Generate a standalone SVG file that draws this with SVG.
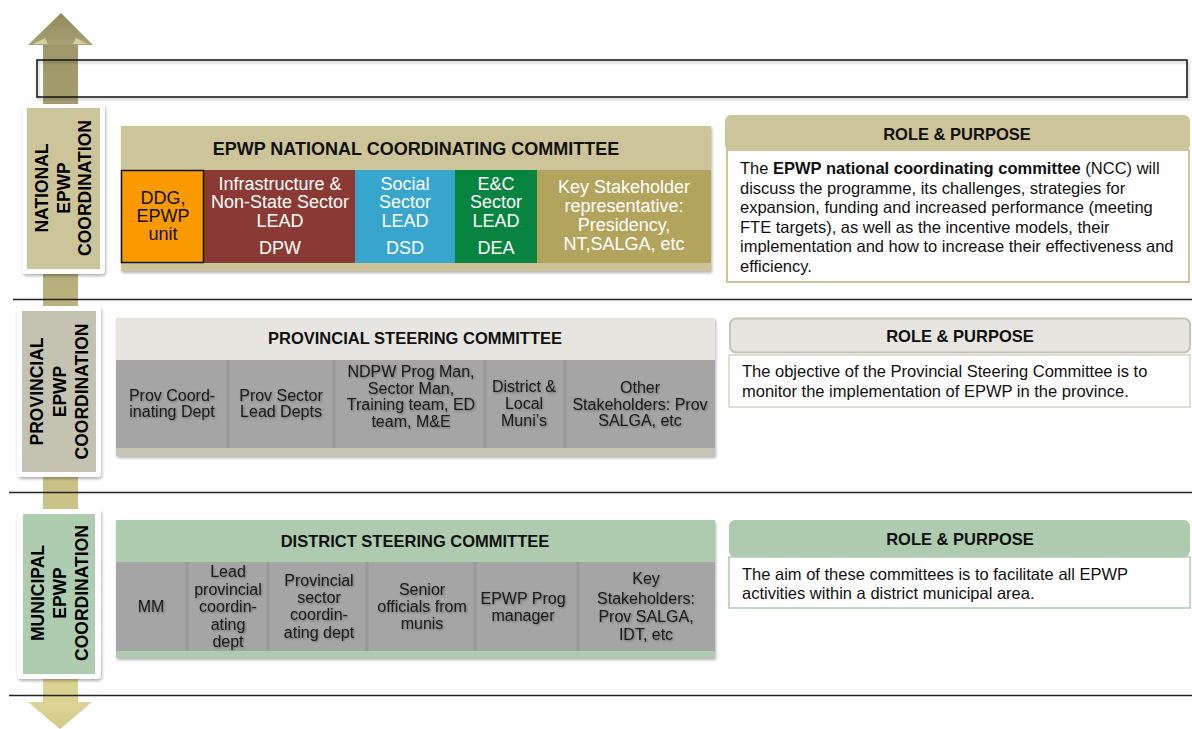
<svg xmlns="http://www.w3.org/2000/svg" width="1192" height="729" viewBox="0 0 1192 729">
<defs>
<linearGradient id="shaftGrad" x1="0" y1="0" x2="0" y2="1">
<stop offset="0" stop-color="#9e986a"/>
<stop offset="0.45" stop-color="#bdb581"/>
<stop offset="1" stop-color="#dcd391"/>
</linearGradient>
<linearGradient id="headTop" x1="0" y1="0" x2="0" y2="1">
<stop offset="0" stop-color="#8f895c"/>
<stop offset="1" stop-color="#a8a172"/>
</linearGradient>
<linearGradient id="headBot" x1="0" y1="0" x2="0" y2="1">
<stop offset="0" stop-color="#ddd597"/>
<stop offset="1" stop-color="#d2c985"/>
</linearGradient>
<filter id="shadow" x="-5%" y="-5%" width="110%" height="115%">
<feDropShadow dx="1" dy="2" stdDeviation="1.5" flood-color="#000" flood-opacity="0.3"/>
</filter>
<filter id="tshadow" x="-10%" y="-20%" width="120%" height="140%">
<feDropShadow dx="1" dy="1" stdDeviation="0.8" flood-color="#000" flood-opacity="0.35"/>
</filter>
<style>
text{font-family:"Liberation Sans",Arial,sans-serif;}
.lbl{font-size:17.5px;font-weight:bold;fill:#000;text-anchor:middle;}
.hdr{font-size:16.5px;font-weight:bold;fill:#111;text-anchor:middle;}
.nh{font-size:18px;font-weight:bold;fill:#111;text-anchor:middle;}
.nc{font-size:18px;fill:#fff;text-anchor:middle;}
.nd{font-size:18px;fill:#111;text-anchor:middle;}
.cell{font-size:16px;fill:#1a1a1a;text-anchor:middle;}
.body{font-size:16.5px;fill:#111;}
.rule{stroke:#222;stroke-width:1.5;}
.gcell{fill:#a5a5a5;}
.div{stroke:#999;stroke-width:3;}
</style>
</defs>
<rect width="1192" height="729" fill="#fff"/>

<g id="arrow">
<rect x="43" y="44" width="35" height="660" fill="url(#shaftGrad)"/>
<polygon points="61,13 93,45 28,45" fill="url(#headTop)"/>
<polygon points="33,44 45,38 48,44" fill="#e8e2b8" opacity="0.7"/>
<polygon points="88,44 76,38 73,44" fill="#e8e2b8" opacity="0.7"/>
<polygon points="28,702 92,702 60,729" fill="url(#headBot)"/>
</g>

<g id="dividers">
<line class="rule" x1="13" y1="299.5" x2="1192" y2="299.5"/>
<line class="rule" x1="9" y1="492.5" x2="1192" y2="492.5"/>
<line class="rule" x1="9" y1="695.5" x2="1192" y2="695.5"/>
</g>

<g id="top-box">
<rect x="37" y="60" width="1150" height="37" fill="none" stroke="#111" stroke-width="1.5" filter="url(#shadow)"/>
</g>

<g id="national-label">
<rect x="22" y="104" width="83" height="170" rx="4" fill="#fff" filter="url(#shadow)"/>
<rect x="27" y="108" width="73" height="161" fill="#cdc59a"/>
<g transform="translate(63,188) rotate(-90)">
<text class="lbl" x="0" y="-15">NATIONAL</text>
<text class="lbl" x="0" y="6.5">EPWP</text>
<text class="lbl" x="0" y="28">COORDINATION</text>
</g>
</g>

<g id="provincial-label">
<rect x="17" y="306" width="84" height="171" rx="4" fill="#fff" filter="url(#shadow)"/>
<rect x="22" y="311" width="74" height="161" fill="#c4c2b1"/>
<g transform="translate(60,391.5) rotate(-90)">
<text class="lbl" x="0" y="-17">PROVINCIAL</text>
<text class="lbl" x="0" y="6">EPWP</text>
<text class="lbl" x="0" y="28">COORDINATION</text>
</g>
</g>

<g id="municipal-label">
<rect x="17" y="509" width="84" height="170" rx="4" fill="#fff" filter="url(#shadow)"/>
<rect x="23" y="514" width="72" height="160" fill="#aecdb0"/>
<g transform="translate(60,593) rotate(-90)">
<text class="lbl" x="0" y="-16">MUNICIPAL</text>
<text class="lbl" x="0" y="6">EPWP</text>
<text class="lbl" x="0" y="28">COORDINATION</text>
</g>
</g>

<g id="national-committee">
<rect x="121" y="126" width="590" height="145" fill="#cdc59a" filter="url(#shadow)"/>
<text class="nh" x="416" y="155">EPWP NATIONAL COORDINATING COMMITTEE</text>
<rect x="203" y="170" width="152" height="93" fill="#8b3a33"/>
<rect x="355" y="170" width="100" height="93" fill="#38a6cc"/>
<rect x="455" y="170" width="82" height="93" fill="#07843f"/>
<rect x="537" y="170" width="174" height="93" fill="#b3a45d"/>
<rect x="121.5" y="170.5" width="82" height="92" fill="#fa9a00" stroke="#111" stroke-width="1.5"/>
<text class="nd" x="163" y="204">DDG,</text>
<text class="nd" x="163" y="222">EPWP</text>
<text class="nd" x="163" y="240">unit</text>
<text class="nc" x="280" y="190">Infrastructure &amp;</text>
<text class="nc" x="280" y="208">Non-State Sector</text>
<text class="nc" x="280" y="227">LEAD</text>
<text class="nc" x="280" y="254">DPW</text>
<text class="nc" x="405" y="190">Social</text>
<text class="nc" x="405" y="208">Sector</text>
<text class="nc" x="405" y="227">LEAD</text>
<text class="nc" x="405" y="254">DSD</text>
<text class="nc" x="496" y="190">E&amp;C</text>
<text class="nc" x="496" y="208">Sector</text>
<text class="nc" x="496" y="227">LEAD</text>
<text class="nc" x="496" y="254">DEA</text>
<text class="nc" x="624" y="193">Key Stakeholder</text>
<text class="nc" x="624" y="212">representative:</text>
<text class="nc" x="624" y="231">Presidency,</text>
<text class="nc" x="624" y="250">NT,SALGA, etc</text>
</g>

<g id="national-role">
<rect x="727" y="150" width="462" height="132" fill="#fff" stroke="#cdc59a" stroke-width="2"/>
<rect x="725" y="115" width="465" height="36" rx="6" fill="#cdc59a"/>
<text class="hdr" x="957" y="140">ROLE &amp; PURPOSE</text>
<text class="body" x="740" y="174">The <tspan font-weight="bold">EPWP national coordinating committee</tspan> (NCC) will</text>
<text class="body" x="740" y="193.5">discuss the programme, its challenges, strategies for</text>
<text class="body" x="740" y="213">expansion, funding and increased performance (meeting</text>
<text class="body" x="740" y="232.5">FTE targets), as well as the incentive models, their</text>
<text class="body" x="740" y="252">implementation and how to increase their effectiveness and</text>
<text class="body" x="740" y="271.5">efficiency.</text>
</g>

<g id="provincial-committee">
<rect x="116" y="318" width="599" height="138" fill="#c6c4b4" filter="url(#shadow)"/>
<rect x="116" y="318" width="599" height="42" fill="#e6e5df"/>
<rect class="gcell" x="116" y="360" width="599" height="88"/>
<line class="div" x1="228" y1="360" x2="228" y2="448"/>
<line class="div" x1="334" y1="360" x2="334" y2="448"/>
<line class="div" x1="485" y1="360" x2="485" y2="448"/>
<line class="div" x1="565" y1="360" x2="565" y2="448"/>
<text class="hdr" x="415" y="344">PROVINCIAL STEERING COMMITTEE</text>
<g filter="url(#tshadow)">
<text class="cell" x="172" y="401">Prov Coord-</text>
<text class="cell" x="172" y="417">inating Dept</text>
<text class="cell" x="281" y="401">Prov Sector</text>
<text class="cell" x="281" y="417">Lead Depts</text>
<text class="cell" x="411" y="377">NDPW Prog Man,</text>
<text class="cell" x="411" y="393.5">Sector Man,</text>
<text class="cell" x="411" y="410">Training team, ED</text>
<text class="cell" x="411" y="426.5">team, M&amp;E</text>
<text class="cell" x="524" y="392">District &amp;</text>
<text class="cell" x="524" y="409">Local</text>
<text class="cell" x="524" y="426">Muni’s</text>
<text class="cell" x="640" y="393">Other</text>
<text class="cell" x="640" y="409.5">Stakeholders: Prov</text>
<text class="cell" x="640" y="426">SALGA, etc</text>
</g>
</g>

<g id="provincial-role">
<rect x="729" y="355" width="461" height="52" fill="#fff" stroke="#d4d3c8" stroke-width="1.5"/>
<rect x="730" y="318.5" width="460" height="34" rx="6" fill="#e6e5df" stroke="#c6c4b4" stroke-width="2"/>
<text class="hdr" x="960" y="342">ROLE &amp; PURPOSE</text>
<text class="body" x="742" y="377">The objective of the Provincial Steering Committee is to</text>
<text class="body" x="742" y="397">monitor the implementation of EPWP in the province.</text>
</g>

<g id="district-committee">
<rect x="116" y="520" width="599" height="138" fill="#aecbb0" filter="url(#shadow)"/>
<rect class="gcell" x="116" y="562" width="599" height="89"/>
<line class="div" x1="187" y1="562" x2="187" y2="651"/>
<line class="div" x1="268" y1="562" x2="268" y2="651"/>
<line class="div" x1="367" y1="562" x2="367" y2="651"/>
<line class="div" x1="475" y1="562" x2="475" y2="651"/>
<line class="div" x1="578" y1="562" x2="578" y2="651"/>
<text class="hdr" x="415" y="547">DISTRICT STEERING COMMITTEE</text>
<g filter="url(#tshadow)">
<text class="cell" x="151" y="612">MM</text>
<text class="cell" x="228" y="577">Lead</text>
<text class="cell" x="228" y="594.5">provincial</text>
<text class="cell" x="228" y="612">coordin-</text>
<text class="cell" x="228" y="629.5">ating</text>
<text class="cell" x="228" y="647">dept</text>
<text class="cell" x="319" y="586">Provincial</text>
<text class="cell" x="319" y="603">sector</text>
<text class="cell" x="319" y="620">coordin-</text>
<text class="cell" x="319" y="638">ating dept</text>
<text class="cell" x="422" y="595">Senior</text>
<text class="cell" x="422" y="612">officials from</text>
<text class="cell" x="422" y="629">munis</text>
<text class="cell" x="523" y="604">EPWP Prog</text>
<text class="cell" x="523" y="621">manager</text>
<text class="cell" x="646" y="584">Key</text>
<text class="cell" x="646" y="604">Stakeholders:</text>
<text class="cell" x="646" y="622">Prov SALGA,</text>
<text class="cell" x="646" y="640">IDT, etc</text>
</g>
</g>

<g id="district-role">
<rect x="729" y="557" width="461" height="51" fill="#fff" stroke="#aecbb0" stroke-width="1.5"/>
<rect x="729" y="520" width="461" height="37" rx="6" fill="#aecbb0"/>
<text class="hdr" x="960" y="545">ROLE &amp; PURPOSE</text>
<text class="body" x="742" y="580">The aim of these committees is to facilitate all EPWP</text>
<text class="body" x="742" y="599">activities within a district municipal area.</text>
</g>

<g id="connectors"></g>
</svg>
